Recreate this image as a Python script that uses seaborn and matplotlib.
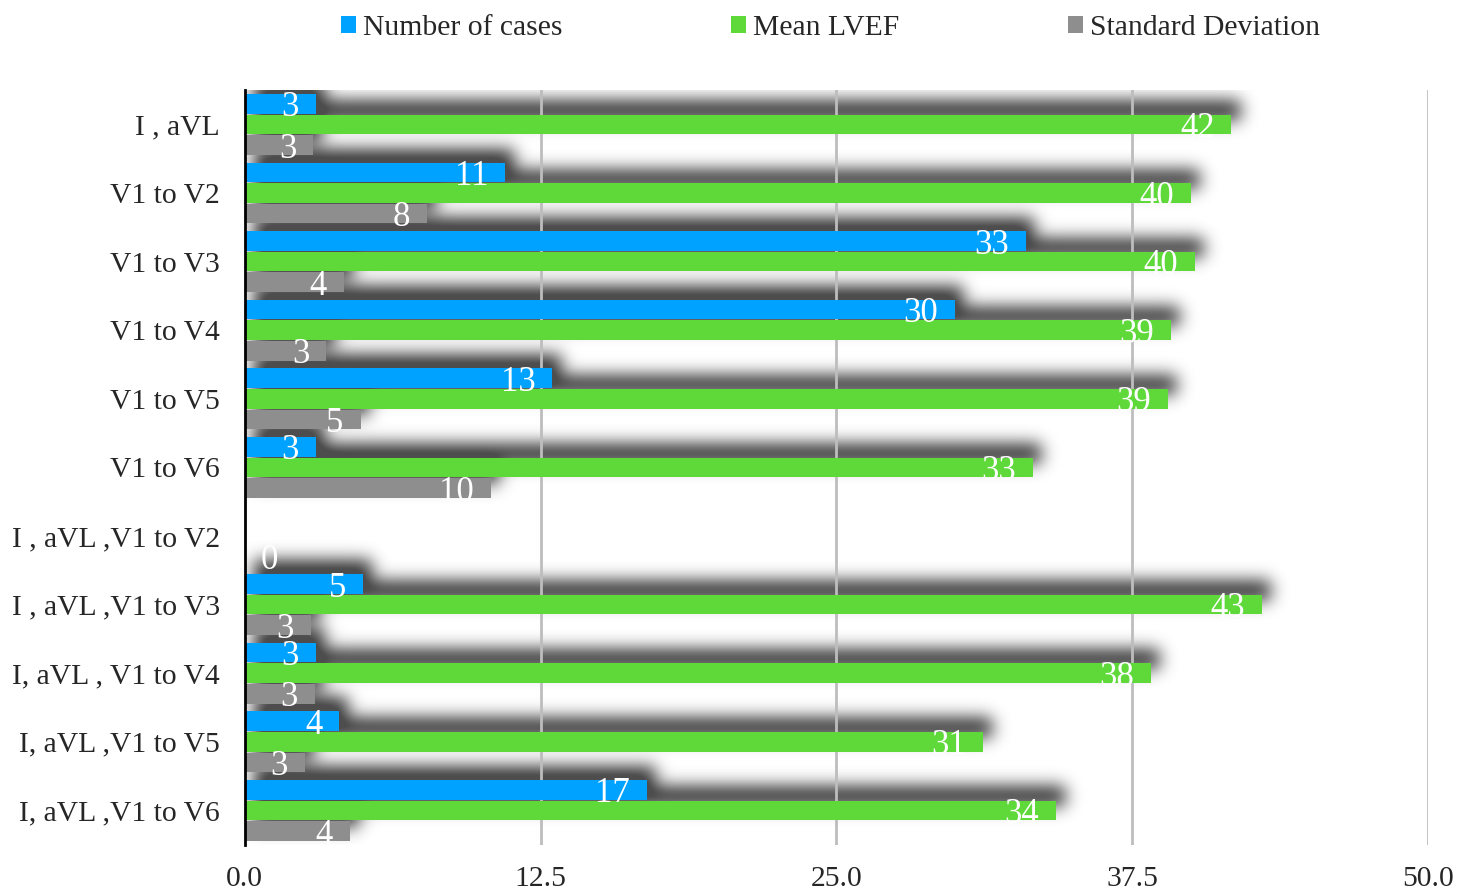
import numpy as np
import pandas as pd
import matplotlib
matplotlib.use("Agg")
import matplotlib.pyplot as plt
from matplotlib.patches import Patch
import seaborn as sns

# ECG lead territories and their summary statistics
leads = ["I , aVL", "V1 to V2", "V1 to V3", "V1 to V4", "V1 to V5", "V1 to V6",
         "I , aVL ,V1 to V2", "I , aVL ,V1 to V3", "I, aVL , V1 to V4",
         "I, aVL ,V1 to V5", "I, aVL ,V1 to V6"]
n_cases = [3, 11, 33, 30, 13, 3, np.nan, 5, 3, 4, 17]
mean_lvef = [41.7, 40.0, 40.15, 39.15, 39.0, 33.3, np.nan, 43.0, 38.3, 31.2, 34.3]
std_dev = [2.9, 7.7, 4.2, 3.45, 4.9, 10.4, 0.0, 2.8, 2.95, 2.55, 4.45]

series = ["Number of cases", "Mean LVEF", "Standard Deviation"]
colors = ["#00A2FF", "#5FD93A", "#8E8E8E"]
x_ticks = [0.0, 12.5, 25.0, 37.5, 50.0]

df = pd.DataFrame({
    "lead": leads * 3,
    "series": [series[0]] * len(leads) + [series[1]] * len(leads) + [series[2]] * len(leads),
    "value": list(n_cases) + list(mean_lvef) + list(std_dev),
})

sns.set_style("white")
plt.rcParams["font.family"] = ["Liberation Serif", "DejaVu Serif"]
FS = 21.3
LFS = 25

fig = plt.figure(figsize=(14.57, 8.92), dpi=100)
ax = fig.add_axes([0.168, 0.053, 0.812, 0.846])

sns.barplot(data=df.dropna(), y="lead", x="value", hue="series", order=leads,
            hue_order=series, palette=dict(zip(series, colors)), orient="h",
            width=0.9, gap=0.05, errorbar=None, legend=False, linewidth=0,
            saturation=1, ax=ax, zorder=3)

ax.set_xlim(0, 50)
ax.set_ylim(len(leads) - 0.5, -0.5)
ax.set_xticks(x_ticks)
ax.set_xticklabels([f"{t:.1f}" for t in x_ticks], fontsize=FS)
ax.tick_params(axis="x", length=0, pad=15)
ax.tick_params(axis="y", length=0, pad=18, labelsize=FS)
ax.set_xlabel("")
ax.set_ylabel("")
for s in ["top", "right", "bottom"]:
    ax.spines[s].set_visible(False)
ax.spines["left"].set_color("black")
ax.spines["left"].set_linewidth(2)
ax.spines["left"].set_zorder(5)
for t in x_ticks[1:]:
    ax.axvline(t, color="#BDBDBD", lw=2, zorder=1.5)

# soft drop shadow behind every bar (offset up and to the right)
x0, x1, y0, y1 = -2.0, 53.0, -1.2, len(leads) - 0.2
nx, ny = 1300, 830
xs = np.linspace(x0, x1, nx)
ys = np.linspace(y0, y1, ny)
mask = np.zeros((ny, nx))
px_x = 50 / 1183.0
px_y = 11 / 755.0
dx, dy = 8 * px_x, -14 * px_y
for p in ax.patches:
    w = p.get_width()
    if not np.isfinite(w) or w <= 0:
        continue
    bx, by, bh = p.get_x() + dx, p.get_y() + dy, p.get_height()
    cols = (xs >= bx) & (xs <= bx + w)
    rows = (ys >= by) & (ys <= by + bh)
    mask[np.ix_(rows, cols)] = 1.0


def blur(a, sigma, axis):
    r = int(3 * sigma)
    k = np.exp(-0.5 * (np.arange(-r, r + 1) / sigma) ** 2)
    k /= k.sum()
    pad = [(0, 0), (0, 0)]
    pad[axis] = (r, r)
    ap = np.pad(a, pad)
    out = np.zeros_like(a)
    n = a.shape[axis]
    for i, kv in enumerate(k):
        sl = [slice(None), slice(None)]
        sl[axis] = slice(i, i + n)
        out += kv * ap[tuple(sl)]
    return out


sig_px = 8.5
sig_x = sig_px * (nx / ((x1 - x0) / px_x))
sig_y = sig_px * (ny / ((y1 - y0) / px_y))
shadow = blur(blur(mask, sig_x, 1), sig_y, 0)
rgba = np.zeros((ny, nx, 4))
rgba[..., 3] = np.clip(shadow * 1.2, 0, 1) * 0.7
ax.imshow(rgba, extent=(x0, x1, y1, y0), aspect="auto", zorder=1,
          interpolation="bilinear", clip_on=True)
ax.set_xlim(0, 50)
ax.set_ylim(len(leads) - 0.5, -0.5)

# value labels inside the bar ends
offsets = [-0.3, 0.0, 0.3]
for k, vals in enumerate([n_cases, mean_lvef, std_dev]):
    for i, v in enumerate(vals):
        if not np.isfinite(v):
            continue
        y = i + offsets[k] + 0.06
        txt = f"{int(np.floor(v + 0.5))}"
        if v < 1.5:
            ax.text(0.65, y, txt, color="white", fontsize=LFS,
                    ha="left", va="center", zorder=6)
        else:
            ax.text(v - 0.72, y, txt, color="white", fontsize=LFS,
                    ha="right", va="center", zorder=6)

handles = [Patch(facecolor=c, edgecolor="none") for c in colors]
fig.legend(handles, series, loc="center", bbox_to_anchor=(0.570, 0.969), ncol=3,
           frameon=False, fontsize=FS, handlelength=0.5, handleheight=0.5,
           handletextpad=0.25, columnspacing=5.7)

fig.savefig("out.png", dpi=100)
